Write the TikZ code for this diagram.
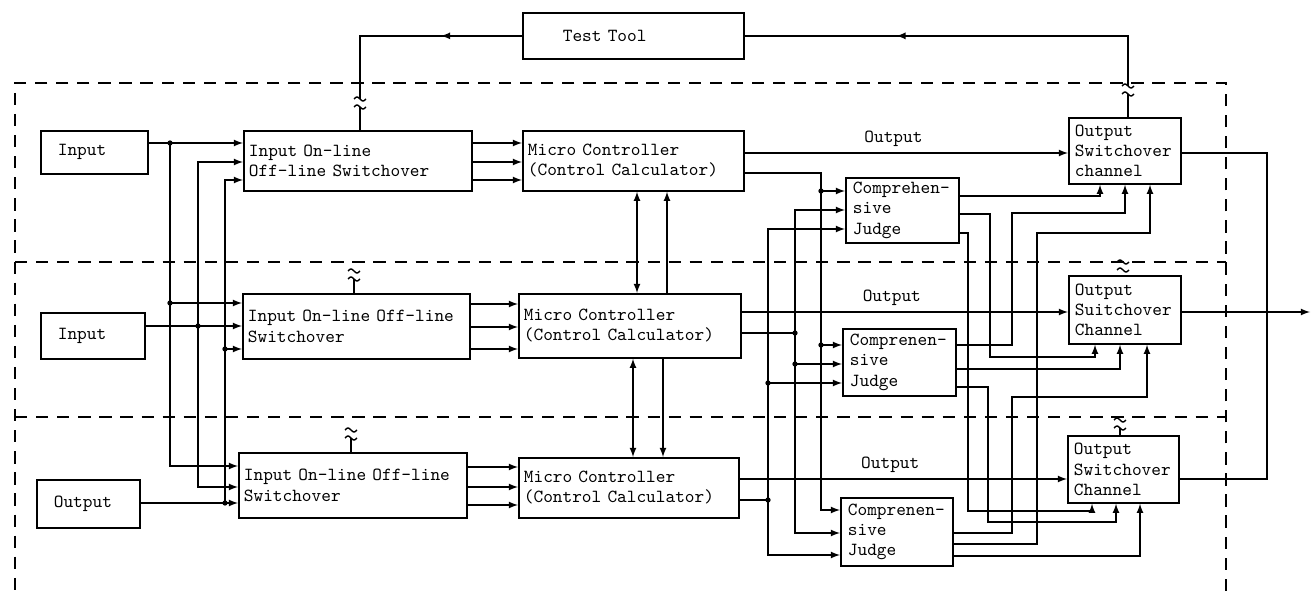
\documentclass[tikz,border=0pt]{standalone}
\usepackage{fontspec}
\usetikzlibrary{decorations.markings}
\begin{document}
\begin{tikzpicture}[>=latex, x=0.02cm, y=-0.02cm, line width=0.8pt,
        font=\fontsize{10.5}{11.4}\ttfamily,
        box/.style={draw, line width=1pt, anchor=north west, align=left, inner ysep=0pt},
        sep/.style={dash pattern=on 7pt off 5pt},
        midarrow/.style={postaction={decorate}, decoration={markings, mark=at position #1 with {\arrow{latex}}}},
        wavebreak/.pic={\draw (-6,0) sin (-3,-2) cos (0,0) sin (3,2) cos (6,0);
                        \draw (-6,8) sin (-3,6) cos (0,8) sin (3,10) cos (6,8);}]
        \useasboundingbox (0,0) rectangle (1315,591);
        % dashed frame
        \draw[sep] (1226,591) -- (1226,83) -- (15,83) -- (15,591);
        \draw[sep] (15,262) -- (1226,262);
        \draw[sep] (15,417) -- (1226,417);
        % boxes
        \node[box, inner xsep=0.8cm, text width=2.82cm, minimum height=0.92cm] (tt) at (522,12) {Test Tool};
        \node[box, inner xsep=0.34cm, text width=1.46cm, minimum height=0.86cm] (in1) at (40,130) {Input};
        \node[box, inner xsep=0.34cm, text width=1.40cm, minimum height=0.92cm] (in2) at (40,312) {Input};
        \node[box, inner xsep=0.34cm, text width=1.38cm, minimum height=0.96cm] (ou) at (36,479) {Output};
        \node[box, inner xsep=0.1cm, text width=4.36cm, minimum height=1.2cm] (is1) at (243,130) {Input On-line\\Off-line Switchover};
        \node[box, inner xsep=0.1cm, text width=4.34cm, minimum height=1.3cm] (is2) at (242,293) {Input On-line Off-line\\Switchover};
        \node[box, inner xsep=0.1cm, text width=4.36cm, minimum height=1.3cm] (is3) at (238,452) {Input On-line Off-line\\Switchover};
        \node[box, inner xsep=0.1cm, text width=4.22cm, minimum height=1.2cm] (mc1) at (522,130) {Micro Controller\\(Control Calculator)};
        \node[box, inner xsep=0.1cm, text width=4.24cm, minimum height=1.28cm] (mc2) at (518,293) {Micro Controller\\(Control Calculator)};
        \node[box, inner xsep=0.1cm, text width=4.2cm, minimum height=1.2cm] (mc3) at (518,457) {Micro Controller\\(Control Calculator)};
        \node[box, inner xsep=0.14cm, text width=1.98cm, minimum height=1.3cm] (j1) at (845,177) {Comprehen-\\sive\\Judge};
        \node[box, inner xsep=0.14cm, text width=1.98cm, minimum height=1.34cm] (j2) at (842,328) {Comprenen-\\sive\\Judge};
        \node[box, inner xsep=0.14cm, text width=1.96cm, minimum height=1.36cm] (j3) at (840,497) {Comprenen-\\sive\\Judge};
        \node[box, inner xsep=0.12cm, text width=2.0cm, minimum height=1.32cm] (os1) at (1068,117) {Output\\Switchover\\channel};
        \node[box, inner xsep=0.12cm, text width=2.0cm, minimum height=1.36cm] (os2) at (1068,275) {Output\\Suitchover\\Channel};
        \node[box, inner xsep=0.12cm, text width=1.98cm, minimum height=1.34cm] (os3) at (1067,435) {Output\\Switchover\\Channel};
        % inputs to switchover
        \draw[->] (in1.east |- 0,143) -- (is1.west |- 0,143);
        \foreach \y/\t in {303/is2, 466/is3}
            \draw[->] (in1.east |- 0,143) -| (170,\y) -- (\t.west |- 0,\y);
        \draw[->] (in2.east |- 0,326) -- (is2.west |- 0,326);
        \foreach \y/\t in {162/is1, 487/is3}
            \draw[->] (in2.east |- 0,326) -| (198,\y) -- (\t.west |- 0,\y);
        \draw[->] (ou.east |- 0,503) -- (is3.west |- 0,503);
        \foreach \y/\t in {180/is1, 349/is2}
            \draw[->] (ou.east |- 0,503) -| (225,\y) -- (\t.west |- 0,\y);
        % switchover to micro controller
        \foreach \y in {143,162,180} \draw[->] (is1.east |- 0,\y) -- (mc1.west |- 0,\y);
        \foreach \y in {304,327,349} \draw[->] (is2.east |- 0,\y) -- (mc2.west |- 0,\y);
        \foreach \y in {467,487,505} \draw[->] (is3.east |- 0,\y) -- (mc3.west |- 0,\y);
        % micro controllers
        \draw[<->] (mc1.south -| 637,0) -- (mc2.north -| 637,0);
        \draw[->] (mc2.north -| 667,0) -- (mc1.south -| 667,0);
        \draw[<->] (mc2.south -| 633,0) -- (mc3.north -| 633,0);
        \draw[->] (mc2.south -| 663,0) -- (mc3.north -| 663,0);
        \draw[->] (mc1.east |- 0,153) -- node[above, pos=0.46] (lo1) {Output} (os1.west |- 0,153);
        \draw[->] (mc2.east |- 0,312) -- node[above, pos=0.46] (lo2) {Output} (os2.west |- 0,312);
        \draw[->] (mc3.east |- 0,479) -- node[above, pos=0.46] (lo3) {Output} (os3.west |- 0,479);
        % to judges
        \foreach \y/\t in {191/j1, 345/j2, 510/j3}
            \draw[->] (mc1.east |- 0,173) -| (821,\y) -- (\t.west |- 0,\y);
        \foreach \y/\t in {210/j1, 364/j2, 533/j3}
            \draw[->] (mc2.east |- 0,333) -| (795,\y) -- (\t.west |- 0,\y);
        \foreach \y/\t in {229/j1, 383/j2, 555/j3}
            \draw[->] (mc3.east |- 0,500) -| (768,\y) -- (\t.west |- 0,\y);
        % judges to output switchover
        \draw[->] (j1.east |- 0,196) -| (os1.south -| 1100,0);
        \draw[->] (j1.east |- 0,214) -| (990,357) -| (os2.south -| 1095,0);
        \draw[->] (j1.east |- 0,233) -| (968,511) -| (os3.south -| 1092,0);
        \draw[->] (j2.east |- 0,345) -| (1012,213) -| (os1.south -| 1125,0);
        \draw[->] (j2.east |- 0,369) -| (os2.south -| 1120,0);
        \draw[->] (j2.east |- 0,387) -| (988,522) -| (os3.south -| 1116,0);
        \draw[->] (j3.east |- 0,533) -| (1012,397) -| (os2.south -| 1147,0);
        \draw[->] (j3.east |- 0,544) -| (1037,233) -| (os1.south -| 1150,0);
        \draw[->] (j3.east |- 0,556) -| (os3.south -| 1140,0);
        % outputs
        \coordinate (outend) at (1310,312);
        \draw[->] (os2.east |- 0,312) -- (outend);
        \draw (os1.east |- 0,153) -| (1267,479) -- (os3.east |- 0,479);
        % test tool
        \coordinate (bkl) at (360,99);
        \coordinate (bkr) at (1128,86);
        \draw[midarrow=0.36] (tt.west) -| (bkl);
        \draw (bkl) ++(0,8) -- (is1.north -| bkl);
        \draw[midarrow=0.65] (bkr) |- (tt.east);
        \draw (bkr) ++(0,8) -- (os1.north -| bkr);
        \pic at (bkl) {wavebreak};
        \pic at (bkr) {wavebreak};
        % breaks above the other channels
        \coordinate (bk2) at (354,271);
        \coordinate (bk3) at (351,430);
        \coordinate (bo3) at (1120,420);
        \pic at (bk2) {wavebreak};
        \pic at (bk3) {wavebreak};
        \pic at (1123,262) {wavebreak};
        \pic at (bo3) {wavebreak};
        \draw (bk2) ++(0,8) -- (is2.north -| bk2);
        \draw (bk3) ++(0,8) -- (is3.north -| bk3);
        \draw (bo3) ++(0,8) -- (os3.north -| bo3);
        % junctions
        \foreach \p in {(170,143),(170,303),(198,326),(225,349),(225,503),
                        (821,191),(821,345),(795,333),(795,364),(768,383),(768,500)}
            \fill \p circle (1.5pt);
\end{tikzpicture}
\end{document}
